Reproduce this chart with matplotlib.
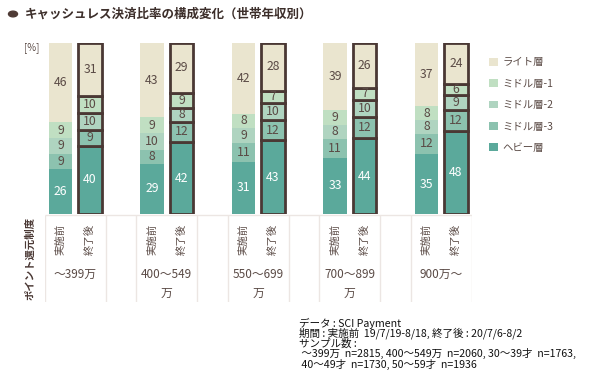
import numpy as np
import matplotlib.pyplot as plt
from matplotlib.patches import Circle

plt.rcParams['font.family'] = ['Noto Sans CJK JP', 'DejaVu Sans']

#---------------------------------
# Data
#---------------------------------

GROUPS = ["〜399万", "400〜549\n万", "550〜699\n万", "700〜899\n万", "900万〜"]
LAYERS = ["ヘビー層", "ミドル層-3", "ミドル層-2", "ミドル層-1", "ライト層"]

# rows = layer (bottom -> top), cols = income group
BEFORE = np.array([
    [26, 29, 31, 33, 35],   # heavy
    [9, 8, 11, 11, 12],     # middle-3
    [9, 10, 9, 8, 8],       # middle-2
    [9, 9, 8, 9, 8],        # middle-1
    [46, 43, 42, 39, 37],   # light
])
AFTER = np.array([
    [40, 42, 43, 44, 48],
    [9, 12, 12, 12, 12],
    [10, 8, 10, 10, 9],
    [10, 9, 7, 7, 6],
    [31, 29, 28, 26, 24],
])

COLORS = ["#5ba99b", "#8cc2af", "#afd4c0", "#c0dfc2", "#eae5cf"]
EDGE = "#4a3834"
TXT = "#5a4a45"

#---------------------------------
# Figure
#---------------------------------

W, H = 600, 380
fig = plt.figure(figsize=(6, 3.8), dpi=100)

def fx(px):
    return px / W

def fy(py):
    return 1 - py / H

# bar axes: x 45..472 px, y 43..214 px
ax = fig.add_axes([fx(45), fy(214), fx(472 - 45), (214 - 43) / H])
x = np.arange(len(GROUPS))
off, bw = 0.161, 0.26

def draw_stack(data, xpos, edged):
    tot = data.sum(axis=0)
    scaled = data / tot * 100
    bottom = np.zeros(data.shape[1])
    handles = []
    for i in range(data.shape[0]):
        b = ax.bar(xpos, scaled[i], bw, bottom=bottom, color=COLORS[i],
                   edgecolor=EDGE if edged else "none",
                   linewidth=2 if edged else 0, label=LAYERS[i])
        handles.append(b)
        for xi, yb, h, v in zip(xpos, bottom, scaled[i], data[i]):
            ax.text(xi, yb + h / 2, str(v), ha="center", va="center",
                    fontsize=8.8, color="white" if i == 0 else TXT)
        bottom += scaled[i]
    return handles

hb = draw_stack(BEFORE, x - off, False)
draw_stack(AFTER, x + off, True)

ax.set_xlim(-0.331, 4.336)
ax.set_ylim(0, 100)
ax.axis("off")

fig.text(fx(32), fy(48), "[%]", fontsize=7, color=TXT, ha="center", va="center")

# table below the bars
tx = fig.add_axes([fx(45), fy(302), fx(472 - 45), (302 - 214) / H])
tx.set_xlim(ax.get_xlim())
tx.set_ylim(302, 214)
tx.axis("off")
edges = np.concatenate([x - 0.333, x + 0.333])
tx.vlines(edges, 215, 302, color="#ece6e3", lw=1)
tx.hlines(215, -0.331, 4.336, color="#ece6e3", lw=1)
for i, g in enumerate(GROUPS):
    tx.text(x[i] - off, 239, "実施前", rotation=90, ha="center", va="center",
            fontsize=7.5, color=TXT)
    tx.text(x[i] + off, 239, "終了後", rotation=90, ha="center", va="center",
            fontsize=7.5, color=TXT)
    tx.text(x[i], 268, g, ha="center", va="top", fontsize=8.5, color=TXT,
            linespacing=1.6)

fig.text(fx(30), fy(258), "ポイント還元制度", rotation=90, ha="center", va="center",
         fontsize=7.5, fontweight="bold", color="#4a3834")

# title
fig.patches.append(Circle((fx(13), fy(14)), 0.0075, transform=fig.transFigure,
                          color="#4e3a35"))
fig.text(fx(25), fy(14), "キャッシュレス決済比率の構成変化（世帯年収別）",
         fontsize=9, fontweight="bold", color="#3c2e2a", va="center")

# legend
leg = fig.legend(handles=hb[::-1], labels=LAYERS[::-1], loc="upper left",
                 bbox_to_anchor=(fx(484), fy(52)), frameon=False, fontsize=7.5,
                 handlelength=0.8, handleheight=0.8, handletextpad=0.5,
                 labelspacing=1.1, borderpad=0, labelcolor=TXT)

# footnote
notes = [
    "データ : SCI Payment",
    "期間 : 実施前  19/7/19-8/18, 終了後 : 20/7/6-8/2",
    "サンプル数 :",
    " 〜399万  n=2815, 400〜549万  n=2060, 30〜39才  n=1763,",
    " 40〜49才  n=1730, 50〜59才  n=1936",
]
for k, line in enumerate(notes):
    fig.text(fx(299), fy(323 + 10.3 * k), line, fontsize=7.6, color="#111111",
             va="center")

fig.savefig("out.png", dpi=100)
